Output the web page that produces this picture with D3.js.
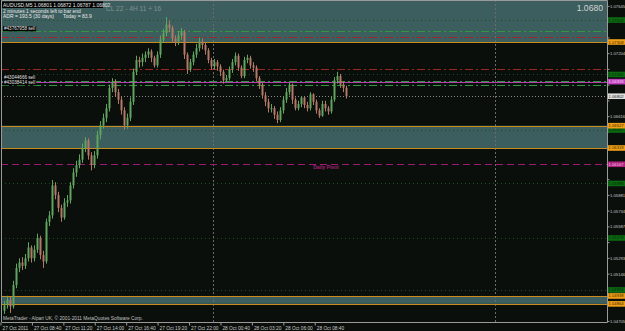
<!DOCTYPE html>
<html>
<head>
	<script src="https://cdnjs.cloudflare.com/ajax/libs/d3/7.8.5/d3.min.js"></script>
	<style>
		html, body {
			padding: 0;
			margin: 0;
			background: #0a0f0b;
		}
		svg { display: block; }
	</style>
</head>
<body>
	<script>
		var width = 625, height = 331;
		var plotLeft = 1, plotRight = 607, plotBottom = 322;
		var font = "'Liberation Sans', Arial, sans-serif";

		//////// DATA ////////
		// AUDUSD candles (one candle ~ 3 px of the original)
		var opens = [
			1.0480, 1.0485, 1.0490, 1.0484, 1.0504, 1.0520, 1.0525, 1.0522, 1.0529, 1.0539,
			1.0529, 1.0537, 1.0548, 1.0532, 1.0526, 1.0563, 1.0569, 1.0597, 1.0588, 1.0576,
			1.0567, 1.0581, 1.0583, 1.0597, 1.0609, 1.0616, 1.0621, 1.0632, 1.0639, 1.0625,
			1.0616, 1.0625, 1.0644, 1.0653, 1.0660, 1.0669, 1.0688, 1.0694, 1.0684, 1.0677,
			1.0667, 1.0653, 1.0660, 1.0675, 1.0703, 1.0714, 1.0712, 1.0716, 1.0719, 1.0722,
			1.0716, 1.0709, 1.0719, 1.0733, 1.0739, 1.0747, 1.0744, 1.0734, 1.0731, 1.0737,
			1.0740, 1.0719, 1.0705, 1.0712, 1.0719, 1.0725, 1.0731, 1.0728, 1.0723, 1.0714,
			1.0708, 1.0712, 1.0708, 1.0703, 1.0695, 1.0697, 1.0705, 1.0712, 1.0718, 1.0707,
			1.0699, 1.0714, 1.0716, 1.0709, 1.0707, 1.0697, 1.0691, 1.0681, 1.0675, 1.0669,
			1.0669, 1.0663, 1.0658, 1.0667, 1.0677, 1.0684, 1.0691, 1.0677, 1.0669, 1.0673,
			1.0679, 1.0672, 1.0669, 1.0682, 1.0675, 1.0667, 1.0662, 1.0673, 1.0669, 1.0666,
			1.0677, 1.0695, 1.0699, 1.0691, 1.0688
		];
		var highs = [
			1.0489, 1.0494, 1.0493, 1.0508, 1.0524, 1.0529, 1.0530, 1.0533, 1.0544, 1.0541,
			1.0541, 1.0552, 1.0550, 1.0536, 1.0566, 1.0573, 1.0602, 1.0600, 1.0591, 1.0579,
			1.0585, 1.0588, 1.0600, 1.0613, 1.0620, 1.0626, 1.0636, 1.0642, 1.0641, 1.0628,
			1.0629, 1.0648, 1.0657, 1.0664, 1.0673, 1.0691, 1.0697, 1.0696, 1.0687, 1.0680,
			1.0670, 1.0664, 1.0679, 1.0706, 1.0718, 1.0717, 1.0720, 1.0722, 1.0725, 1.0724,
			1.0718, 1.0722, 1.0737, 1.0743, 1.0754, 1.0751, 1.0746, 1.0737, 1.0741, 1.0744,
			1.0742, 1.0721, 1.0715, 1.0722, 1.0729, 1.0735, 1.0734, 1.0730, 1.0725, 1.0716,
			1.0715, 1.0714, 1.0710, 1.0705, 1.0700, 1.0708, 1.0715, 1.0721, 1.0720, 1.0709,
			1.0717, 1.0719, 1.0718, 1.0712, 1.0709, 1.0699, 1.0693, 1.0684, 1.0678, 1.0673,
			1.0671, 1.0666, 1.0670, 1.0680, 1.0688, 1.0693, 1.0692, 1.0679, 1.0676, 1.0680,
			1.0680, 1.0675, 1.0684, 1.0683, 1.0677, 1.0669, 1.0676, 1.0676, 1.0671, 1.0680,
			1.0698, 1.0703, 1.0701, 1.0694, 1.0690
		];
		var lows = [
			1.0477, 1.0482, 1.0478, 1.0482, 1.0501, 1.0516, 1.0518, 1.0519, 1.0526, 1.0525,
			1.0526, 1.0534, 1.0528, 1.0520, 1.0524, 1.0559, 1.0566, 1.0584, 1.0572, 1.0563,
			1.0565, 1.0577, 1.0580, 1.0594, 1.0605, 1.0613, 1.0618, 1.0628, 1.0621, 1.0611,
			1.0613, 1.0622, 1.0640, 1.0650, 1.0656, 1.0666, 1.0684, 1.0680, 1.0673, 1.0663,
			1.0649, 1.0650, 1.0657, 1.0672, 1.0700, 1.0707, 1.0708, 1.0712, 1.0716, 1.0712,
			1.0707, 1.0707, 1.0716, 1.0730, 1.0736, 1.0740, 1.0730, 1.0727, 1.0728, 1.0733,
			1.0715, 1.0701, 1.0703, 1.0709, 1.0716, 1.0722, 1.0724, 1.0719, 1.0711, 1.0705,
			1.0705, 1.0704, 1.0699, 1.0692, 1.0693, 1.0695, 1.0702, 1.0709, 1.0704, 1.0697,
			1.0697, 1.0711, 1.0706, 1.0703, 1.0694, 1.0687, 1.0678, 1.0671, 1.0665, 1.0665,
			1.0659, 1.0655, 1.0656, 1.0664, 1.0674, 1.0681, 1.0673, 1.0667, 1.0667, 1.0670,
			1.0669, 1.0666, 1.0667, 1.0672, 1.0664, 1.0660, 1.0661, 1.0666, 1.0663, 1.0664,
			1.0675, 1.0692, 1.0688, 1.0684, 1.0678
		];
		var closes = [
			1.0485, 1.0490, 1.0484, 1.0504, 1.0520, 1.0525, 1.0522, 1.0529, 1.0539, 1.0529,
			1.0537, 1.0548, 1.0532, 1.0526, 1.0563, 1.0569, 1.0597, 1.0588, 1.0576, 1.0567,
			1.0581, 1.0583, 1.0597, 1.0609, 1.0616, 1.0621, 1.0632, 1.0639, 1.0625, 1.0616,
			1.0625, 1.0644, 1.0653, 1.0660, 1.0669, 1.0688, 1.0694, 1.0684, 1.0677, 1.0667,
			1.0653, 1.0660, 1.0675, 1.0703, 1.0714, 1.0712, 1.0716, 1.0719, 1.0722, 1.0716,
			1.0709, 1.0719, 1.0733, 1.0739, 1.0747, 1.0744, 1.0734, 1.0731, 1.0737, 1.0740,
			1.0719, 1.0705, 1.0712, 1.0719, 1.0725, 1.0731, 1.0728, 1.0723, 1.0714, 1.0708,
			1.0712, 1.0708, 1.0703, 1.0695, 1.0697, 1.0705, 1.0712, 1.0718, 1.0707, 1.0699,
			1.0714, 1.0716, 1.0709, 1.0707, 1.0697, 1.0691, 1.0681, 1.0675, 1.0669, 1.0669,
			1.0663, 1.0658, 1.0667, 1.0677, 1.0684, 1.0691, 1.0677, 1.0669, 1.0673, 1.0679,
			1.0672, 1.0669, 1.0682, 1.0675, 1.0667, 1.0662, 1.0673, 1.0669, 1.0666, 1.0677,
			1.0695, 1.0699, 1.0691, 1.0688, 1.0680
		];

		var priceTicks = [1.04705, 1.04852, 1.04999, 1.05146, 1.05293, 1.05440, 1.05587,
			1.05734, 1.05881, 1.06028, 1.06175, 1.06322, 1.06469, 1.06616, 1.06763,
			1.06910, 1.07057, 1.07204, 1.07351, 1.07498, 1.07645];
		var timeTicks = ["2011-10-27 06:00", "2011-10-27 08:40", "2011-10-27 11:20",
			"2011-10-27 14:00", "2011-10-27 16:40", "2011-10-27 19:20", "2011-10-27 22:00",
			"2011-10-28 00:40", "2011-10-28 03:20", "2011-10-28 06:00", "2011-10-28 08:40"];
		var daySeparators = ["2011-10-28 00:00", "2011-10-29 00:00"];

		// supply / demand zones
		var zoneTops = [1.0790, 1.06527, 1.04938];
		var zoneBottoms = [1.07308, 1.06319, 1.04864];
		// open orders, stops and other levels
		var orderPrices = [1.07411, 1.06947, 1.06907];
		var orderNames = ["#43767958 sell", "#43044666 sell", "#43038414 sell"];
		var stopPrices = [1.07355, 1.07053];
		var levelPrices = [1.07513, 1.07005, 1.06487, 1.05988, 1.05479, 1.04994];
		var alertPrice = 1.06938;
		var pivotPrice = 1.06167;
		var bidPrice = 1.06802;

		//////// SCALES ////////
		var parseTime = d3.timeParse("%Y-%m-%d %H:%M");

		var y = d3.scaleLinear()
			.domain([1.04695, 1.07700])
			.range([plotBottom, 0]);

		var xTime = d3.scaleTime()
			.domain([parseTime("2011-10-27 06:00"), parseTime("2011-10-28 12:00")])
			.range([0.5, 354]);

		var xBar = d3.scaleLinear()
			.domain([0, closes.length - 1])
			.range([4, 346]);

		function py(p) { return Math.round(y(p)) + 0.5; }

		var svg = d3.select('body').append('svg')
			.attr('width', width)
			.attr('height', height)
			.style('background-color', '#0a0f0b');

		//////// ZONES ////////
		zoneTops.forEach(function(top, i) {
			var y0 = Math.max(0, y(top)), y1 = y(zoneBottoms[i]);
			svg.append("rect")
				.attr("x", plotLeft)
				.attr("y", y0)
				.attr("width", plotRight - plotLeft)
				.attr("height", y1 - y0)
				.attr("fill", "#3d5e5e");
		});

		// day separators
		daySeparators.forEach(function(d) {
			var x = Math.round(xTime(parseTime(d))) + 0.5;
			svg.append("line")
				.attr("x1", x).attr("x2", x)
				.attr("y1", 0).attr("y2", plotBottom)
				.attr("stroke", "#6a6a6a")
				.attr("stroke-dasharray", "2,2");
		});

		//////// LEVEL LINES ////////
		function hline(p, color, dash, w) {
			svg.append("line")
				.attr("x1", plotLeft).attr("x2", plotRight)
				.attr("y1", py(p)).attr("y2", py(p))
				.attr("stroke", color)
				.attr("stroke-width", w || 1)
				.attr("stroke-dasharray", dash);
		}

		zoneTops.forEach(function(p) { if (y(p) > 0) hline(p, "#c98c1c", null); });
		zoneBottoms.forEach(function(p) { hline(p, "#c98c1c", null); });
		levelPrices.forEach(function(p) { hline(p, "#1d4d22", "1,3"); });
		stopPrices.forEach(function(p) { hline(p, "#a32222", "8,3,2,3"); });
		orderPrices.forEach(function(p) { hline(p, "#2f9a3c", "8,3,2,3"); });
		hline(alertPrice, "#b43cb4", null);
		hline(pivotPrice, "#a01a72", "7,4");
		hline(bidPrice, "#8a8a8a", "1,2");

		svg.append("text")
			.attr("x", 326).attr("y", py(pivotPrice) + 4.5)
			.attr("text-anchor", "middle")
			.style("font-family", font).style("font-size", "5px").style("font-weight", "bold")
			.attr("fill", "#a02074")
			.text("Daily Pivot");

		//////// CANDLES ////////
		var candles = svg.append("g");
		closes.forEach(function(c, i) {
			var up = c >= opens[i];
			var color = up ? "#5fa45f" : "#b47868";
			var x = Math.round(xBar(i));
			candles.append("rect")
				.attr("x", x)
				.attr("y", y(highs[i]))
				.attr("width", 1)
				.attr("height", y(lows[i]) - y(highs[i]))
				.attr("fill", color);
			var top = y(Math.max(c, opens[i])), bot = y(Math.min(c, opens[i]));
			candles.append("rect")
				.attr("x", x - 0.5)
				.attr("y", top)
				.attr("width", 2)
				.attr("height", Math.max(1, bot - top))
				.attr("fill", color);
		});

		// order labels on the left, pushed up when two of them would collide
		var labelsG = svg.append("g");
		var nextTop = Infinity;
		orderPrices.map(function(p, i) { return i; })
			.sort(function(a, b) { return orderPrices[a] - orderPrices[b]; })
			.forEach(function(i) {
				var base = Math.min(py(orderPrices[i]) - 1.2, nextTop - 1.4);
				var g = labelsG.append("g");
				var t = g.append("text")
					.attr("x", 4).attr("y", base)
					.style("font-family", font).style("font-size", "4.6px")
					.attr("fill", "#e8e8e8")
					.text(orderNames[i]);
				var b = t.node().getBBox();
				g.insert("rect", "text")
					.attr("x", b.x - 1).attr("y", base - 4)
					.attr("width", b.width + 2).attr("height", 5)
					.attr("fill", "#000");
				nextTop = base - 4.3;
			});

		//////// FRAME & AXES ////////
		svg.append("rect")
			.attr("x", plotRight).attr("y", 0)
			.attr("width", width - plotRight).attr("height", height)
			.attr("fill", "#0a0f0b");
		svg.append("rect")
			.attr("x", 0).attr("y", plotBottom)
			.attr("width", width).attr("height", height - plotBottom)
			.attr("fill", "#0a0f0b");

		svg.append("path")
			.attr("d", "M1.5," + plotBottom + "V0.5H" + (plotRight + 0.5) + "V" + (plotBottom + 0.5) + "H1.5")
			.attr("fill", "none")
			.attr("stroke", "#9a9a9a");

		// prices that get a coloured box on the right axis (these hide the tick label under them)
		var boxPrices = levelPrices.concat(zoneTops.filter(function(p) { return y(p) > 0; }),
			zoneBottoms, [alertPrice, pivotPrice, bidPrice]);

		var yAxis = svg.append("g")
			.attr("transform", "translate(" + (plotRight + 0.5) + ",0)")
			.call(d3.axisRight(y).tickValues(priceTicks).tickFormat(d3.format(".5f")).tickSize(2).tickPadding(0.5));
		yAxis.select(".domain").remove();
		yAxis.selectAll("line").attr("stroke", "#9a9a9a");
		yAxis.selectAll("text")
			.style("font-family", font).style("font-size", "4.2px")
			.attr("fill", "#c8c8c8");
		yAxis.selectAll(".tick")
			.filter(function(d) {
				return boxPrices.some(function(b) { return Math.abs(y(b) - y(d)) < 6; });
			})
			.select("text").remove();

		var xAxis = svg.append("g")
			.attr("transform", "translate(0," + (plotBottom + 0.5) + ")")
			.call(d3.axisBottom(xTime)
				.tickValues(timeTicks.map(parseTime))
				.tickFormat(function(d, i) { return i === 0 ? d3.timeFormat("%d %b %Y")(d) : d3.timeFormat("%d %b %H:%M")(d); })
				.tickSize(3).tickPadding(1));
		xAxis.select(".domain").remove();
		xAxis.selectAll("line").attr("stroke", "#9a9a9a");
		xAxis.selectAll("text")
			.attr("text-anchor", "start")
			.attr("dx", 1.5)
			.style("font-family", font).style("font-size", "4.8px")
			.attr("fill", "#c8c8c8");

		// price boxes on the right axis
		function priceBox(p, bg, fg) {
			var yy = y(p);
			svg.append("rect")
				.attr("x", plotRight + 1).attr("y", yy - 2.8)
				.attr("width", width - plotRight - 1).attr("height", 5.6)
				.attr("fill", bg);
			svg.append("text")
				.attr("x", plotRight + 1.5).attr("y", yy + 1.5)
				.style("font-family", font).style("font-size", "4.2px")
				.attr("fill", fg)
				.text(d3.format(".5f")(p));
		}
		levelPrices.forEach(function(p) { priceBox(p, "#0c6a12", "#052a08"); });
		zoneTops.forEach(function(p) { if (y(p) > 0) priceBox(p, "#f0a018", "#3a2400"); });
		zoneBottoms.forEach(function(p) { priceBox(p, "#f0a018", "#3a2400"); });
		priceBox(alertPrice, "#c040c0", "#f4d0f4");
		priceBox(pivotPrice, "#b0207e", "#f0c8e0");
		priceBox(bidPrice, "#e0e0e0", "#202020");

		//////// TEXTS ////////
		function label(x, yy, size, color, str, anchor) {
			return svg.append("text")
				.attr("x", x).attr("y", yy)
				.attr("text-anchor", anchor || "start")
				.style("font-family", font).style("font-size", size + "px")
				.attr("fill", color)
				.text(str);
		}

		svg.append("rect").attr("x", 2).attr("y", 1.5).attr("width", 101).attr("height", 6.5).attr("fill", "#000");
		label(3, 6.8, 5, "#e8e8e8", "AUDUSD,M5  1.06801 1.06872 1.06787 1.06802");
		label(3, 12.6, 5, "#e8e8e8", "2 minutes 1 seconds left to bar end");
		label(3, 18, 5, "#e8e8e8", "ADR = 193.5   (30 days)");
		label(63, 18, 5, "#e8e8e8", "Today = 83.9");
		label(106, 10.5, 6.6, "#7f9393", "CL 22 - 4H 11 + 16");
		label(603, 10.5, 8.6, "#d4d4d4", "1.0680", "end");
		label(3, 319.8, 4.8, "#c0c0c0", "MetaTrader - Alpari UK, \u00a9 2001-2011 MetaQuotes Software Corp.");
	</script>
</body>
</html>
